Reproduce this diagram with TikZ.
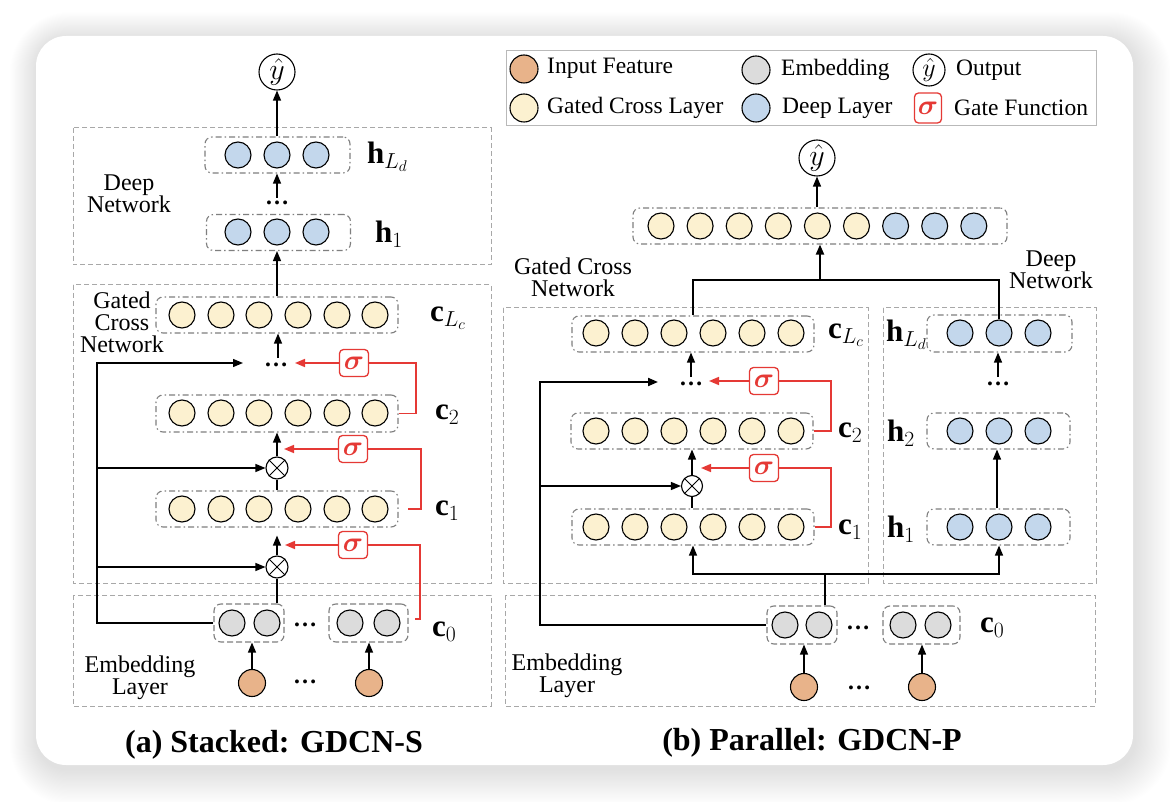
\RequirePackage{fix-cm}
\documentclass[tikz,border=0pt]{standalone}
\usepackage{amsmath}
\usepackage{bm}
\usepackage{fontspec}
\setmainfont{Liberation Serif}
\usetikzlibrary{arrows.meta,calc}
\definecolor{cyel}{HTML}{FCF1D0}
\definecolor{cblue}{HTML}{C3D7EC}
\definecolor{cgray}{HTML}{DCDCDC}
\definecolor{corange}{HTML}{E8B38A}
\definecolor{cred}{HTML}{E53935}
\definecolor{cregion}{HTML}{A8A8A8}
\definecolor{cgroup}{HTML}{7F7F7F}
\begin{document}
\begin{tikzpicture}[x=1pt,y=-1pt,
  neu/.style={circle,draw=black,line width=1.1pt,minimum size=26pt,inner sep=0pt},
  yn/.style={neu,fill=cyel},
  bn/.style={neu,fill=cblue},
  gn/.style={neu,fill=cgray},
  orn/.style={neu,fill=corange,minimum size=27pt},
  grp/.style={draw=cgroup,line width=1.1pt,rounded corners=7pt,dash pattern=on 6pt off 3pt on 1.5pt off 3pt,minimum height=36pt,inner sep=0pt},
  egrp/.style={draw=cgroup,line width=1.1pt,rounded corners=7pt,dash pattern=on 6pt off 3pt,minimum height=38pt,minimum width=70pt,inner sep=0pt},
  region/.style={draw=cregion,line width=1pt,dash pattern=on 5pt off 3pt},
  sig/.style={draw=cred,line width=1.3pt,rounded corners=4pt,fill=white,minimum width=29pt,minimum height=27pt,inner sep=0pt,text=cred,font=\fontsize{28}{28}\selectfont},
  otim/.style={circle,draw,line width=1.1pt,minimum size=22pt,inner sep=0pt},
  outn/.style={circle,draw,line width=1.1pt,minimum size=36pt,inner sep=0pt,font=\fontsize{30}{30}\selectfont},
  lbl/.style={font=\fontsize{24}{25}\selectfont,align=center,inner sep=0pt},
  leg/.style={font=\fontsize{23.5}{24}\selectfont,anchor=west,inner sep=0pt},
  mlbl/.style={font=\fontsize{31}{31}\selectfont,anchor=west,inner sep=0pt},
  dts/.style={font=\fontsize{24}{24}\selectfont\bfseries,inner sep=0pt},
  ttl/.style={font=\fontsize{32}{32}\selectfont\bfseries,inner sep=0pt},
  conn/.style={line width=1.3pt},
  arr/.style={conn,-{Triangle[length=10pt,width=8pt]}},
  redl/.style={draw=cred,line width=1.5pt},
  reda/.style={redl,-{Triangle[length=10pt,width=8pt]}}]
\useasboundingbox (0,0) rectangle (1170,802);
\fill[white] (0,0) rectangle (1170,802);
% shadow
\foreach \i in {1,...,30}{
  \pgfmathsetmacro\rr{30+\i}
  \fill[black,opacity=0.0045,rounded corners=\rr pt] (36-\i*0.9+1,36-\i*0.9+3) rectangle (1133+\i*1.2+2,765+\i*1.2+4);
}
\fill[white,rounded corners=30pt] (36,36) rectangle (1133,765);

%%%%%%%%%%%%%%%% (a) Stacked %%%%%%%%%%%%%%%%
\draw[region] (73,128) rectangle (491,265);
\draw[region] (73,285) rectangle (491,583);
\draw[region] (73,595) rectangle (491,706);

\node[lbl] (lDeepA) at (129,194) {Deep\\[-3pt]Network};
\node[lbl] (lGcnA) at (122,322) {Gated\\[-3pt]Cross\\[-3pt]Network};
\node[lbl] (lEmbA) at (140,678) {Embedding\\[-3pt]Layer};

\node[outn] (yA) at (277,72) {$\hat{y}$};

\node[grp,minimum width=145pt] (gLdA) at (277.5,155) {};
\foreach \i/\x in {1/238,2/277,3/316} \node[bn] (hLdA\i) at (\x,155) {};
\node[mlbl] (lhLdA) at (367,157) {\textbf{h}$_{L_d}$};

\node[dts] (dA1) at (277,203) {\dots};

\node[grp,minimum width=144pt] (gh1A) at (278.5,232.5) {};
\foreach \i/\x in {1/238,2/277,3/316} \node[bn] (h1A\i) at (\x,232) {};
\node[mlbl] (lh1A) at (375,234) {\textbf{h}$_1$};

\node[grp,minimum width=242pt] (gcLcA) at (277,315) {};
\foreach \i/\x in {1/182,2/221,3/259,4/298,5/337,6/375} \node[yn] (cLcA\i) at (\x,315) {};
\node[mlbl] (lcLcA) at (430,318) {\textbf{c}$_{L_c}$};

\node[dts] (dA2) at (276,365) {\dots};
\node[sig] (sA3) at (354,363) {$\bm{\sigma}$};

\node[grp,minimum width=242pt,minimum height=37pt] (gc2A) at (277,413.5) {};
\foreach \i/\x in {1/182,2/221,3/259,4/298,5/337,6/375} \node[yn] (c2A\i) at (\x,413) {};
\node[mlbl] (lc2A) at (435,415) {\textbf{c}$_2$};

\node[otim] (xA2) at (277,468) {};
\draw[line width=1pt] (xA2.45)--(xA2.225) (xA2.135)--(xA2.315);
\node[sig] (sA2) at (353,449) {$\bm{\sigma}$};

\node[grp,minimum width=242pt] (gc1A) at (277,509) {};
\foreach \i/\x in {1/182,2/221,3/259,4/298,5/337,6/375} \node[yn] (c1A\i) at (\x,509) {};
\node[mlbl] (lc1A) at (435,511) {\textbf{c}$_1$};

\node[otim] (xA1) at (277,567) {};
\draw[line width=1pt] (xA1.45)--(xA1.225) (xA1.135)--(xA1.315);
\node[sig] (sA1) at (353,545) {$\bm{\sigma}$};

\node[egrp] (ge1A) at (249,623) {};
\node[gn] (eA1) at (232,623) {};
\node[gn] (eA2) at (267,623) {};
\node[dts] (dA3) at (305,625) {\dots};
\node[egrp,minimum width=79pt] (ge2A) at (368.5,623) {};
\node[gn] (eA3) at (350,623) {};
\node[gn] (eA4) at (387,623) {};
\node[mlbl] (lc0A) at (432,632) {\textbf{c}$_0$};

\node[orn] (iA1) at (252,683) {};
\node[orn] (iA2) at (369,683) {};
\node[dts] (dA4) at (305,682) {\dots};

\node[ttl] (tA) at (274,745) {(a) Stacked: GDCN-S};

% connectors (a)
\draw[arr] (gLdA.north -| yA) -- (yA.south);
\draw[arr] ($(dA1)+(0,-5)$) -- (dA1 |- gLdA.south);
\draw[arr] (gcLcA.north -| yA) -- (gh1A.south -| yA);
\draw[arr] ($(dA2)+(2,-7)$) -- ($(gcLcA.south)+(1,0)$);
\coordinate (fA) at (97,363);
\coordinate (tA3) at (243,363);
\draw[arr] (ge1A.west) -| (fA) -- (tA3);
\draw[arr] (fA |- xA2) -- (xA2.west);
\draw[arr] (fA |- xA1) -- (xA1.west);
\draw[arr] (xA2.north) -- (gc2A.south);
\draw[conn] (gc1A.north) -- (xA2.south);
\draw[arr] (xA1.north) -- ($(gc1A.south)+(0,8)$);
\draw[conn] (xA1.south) -- (xA1.south |- ge1A.north);
\draw[arr] (iA1.north) -- (iA1.north |- ge1A.south);
\draw[arr] (iA2.north) -- (iA2.north |- ge2A.south);
% red gates (a)
\coordinate (rA3) at (416,363);
\draw[redl] (gc2A.east) -| (rA3) -- (sA3.east);
\draw[reda] (sA3.west) -- (295,363);
\coordinate (rA2s) at (408,509);
\coordinate (rA2) at (421,449);
\draw[redl] (rA2s) -| (rA2) -- (sA2.east);
\draw[reda] (sA2.west) -- (284,449);
\coordinate (rA1s) at (415,619);
\coordinate (rA1) at (420,545);
\draw[redl] (rA1s) -| (rA1) -- (sA1.east);
\draw[reda] (sA1.west) -- (285,545);

%%%%%%%%%%%%%%%% Legend %%%%%%%%%%%%%%%%
\draw[draw=cregion!80,line width=1pt] (506,51) rectangle (1096,126);
\node[orn,minimum size=28pt] (lgI) at (524,69) {};
\node[leg] (lgIt) at (547,68) {Input Feature};
\node[gn,minimum size=28pt] (lgE) at (756,70) {};
\node[leg] (lgEt) at (781,70) {Embedding};
\node[outn,minimum size=32pt,font=\fontsize{26}{26}\selectfont] (lgO) at (929,70) {$\hat{y}$};
\node[leg] (lgOt) at (956,70) {Output};
\node[yn,minimum size=28pt] (lgG) at (524,108) {};
\node[leg] (lgGt) at (547,108) {Gated Cross Layer};
\node[bn,minimum size=28pt] (lgD) at (756,108) {};
\node[leg] (lgDt) at (782,108) {Deep Layer};
\node[sig,minimum width=27pt,minimum height=30pt] (lgS) at (928,108) {$\bm{\sigma}$};
\node[leg] (lgSt) at (954,108) {Gate Function};

%%%%%%%%%%%%%%%% (b) Parallel %%%%%%%%%%%%%%%%
\draw[region] (503,308) rectangle (868,583);
\draw[region] (883,308) rectangle (1096,583);
\draw[region] (505,595) rectangle (1095,706);

\node[lbl] (lGcnB) at (573,277) {Gated Cross\\[-3pt]Network};
\node[lbl] (lDeepB) at (1051,270) {Deep\\[-3pt]Network};
\node[lbl] (lEmbB) at (567,676) {Embedding\\[-3pt]Layer};

\node[outn] (yB) at (817,158) {$\hat{y}$};
\node[grp,minimum width=374pt] (gcat) at (820,226) {};
\foreach \i in {0,...,5} \node[yn] (cat\i) at (661+39.1*\i,226) {};
\foreach \i in {6,7,8} \node[bn] (cat\i) at (661+39.1*\i,226) {};

\node[grp,minimum width=242pt] (gcLcB) at (693,334) {};
\foreach \i/\x in {1/596,2/635,3/674,4/713,5/752,6/791} \node[yn] (cLcB\i) at (\x,333) {};
\node[mlbl] (lcLcB) at (828,335) {\textbf{c}$_{L_c}$};

\node[grp,minimum width=145pt,minimum height=37pt] (ghLdB) at (999.5,333.5) {};
\foreach \i/\x in {1/960,2/999,3/1038} \node[bn] (hLdB\i) at (\x,333) {};
\node[mlbl] (lhLdB) at (886,335) {\textbf{h}$_{L_d}$};

\node[dts] (dB1) at (691,384) {\dots};
\node[sig] (sB3) at (764,381) {$\bm{\sigma}$};
\node[dts] (dB2) at (998,384) {\dots};

\node[grp,minimum width=242pt] (gc2B) at (692,431) {};
\foreach \i/\x in {1/596,2/635,3/674,4/713,5/752,6/791} \node[yn] (c2B\i) at (\x,431) {};
\node[mlbl] (lc2B) at (838,433) {\textbf{c}$_2$};
\node[grp,minimum width=143pt] (gh2B) at (998.5,431) {};
\foreach \i/\x in {1/960,2/999,3/1038} \node[bn] (h2B\i) at (\x,431) {};
\node[mlbl] (lh2B) at (887,433) {\textbf{h}$_2$};

\node[otim,minimum size=21pt] (xB) at (692,486) {};
\draw[line width=1pt] (xB.45)--(xB.225) (xB.135)--(xB.315);
\node[sig] (sB2) at (764,468) {$\bm{\sigma}$};

\node[grp,minimum width=242pt] (gc1B) at (693,527) {};
\foreach \i/\x in {1/596,2/635,3/674,4/713,5/752,6/791} \node[yn] (c1B\i) at (\x,527) {};
\node[mlbl] (lc1B) at (838,530) {\textbf{c}$_1$};
\node[grp,minimum width=143pt] (gh1B) at (998.5,527) {};
\foreach \i/\x in {1/960,2/999,3/1038} \node[bn] (h1B\i) at (\x,527) {};
\node[mlbl] (lh1B) at (887,529) {\textbf{h}$_1$};

\node[egrp] (ge1B) at (802,625) {};
\node[gn] (eB1) at (785,625) {};
\node[gn] (eB2) at (819,625) {};
\node[dts] (dB3) at (858,628) {\dots};
\node[egrp,minimum width=77pt] (ge2B) at (921.5,625) {};
\node[gn] (eB3) at (903,625) {};
\node[gn] (eB4) at (938,625) {};
\node[mlbl] (lc0B) at (980,628) {\textbf{c}$_0$};

\node[orn] (iB1) at (804,687) {};
\node[orn] (iB2) at (922,687) {};
\node[dts] (dB4) at (859,688) {\dots};

\node[ttl] (tB) at (812,743) {(b) Parallel: GDCN-P};

% connectors (b)
\draw[arr] (yB |- gcat.north) -- (yB.south);
\coordinate (mB) at (820,280);
\draw[arr,line width=2pt] (mB) -- (mB |- gcat.south);
\draw[conn] (gcLcB.north) |- (mB) -| (hLdB2.north);
\draw[arr] ($(dB1)+(0,-7)$) -- (dB1 |- gcLcB.south);
\draw[arr] ($(dB2)+(0,-7)$) -- (dB2 |- ghLdB.south);
\coordinate (fB) at (540,382);
\coordinate (tB3) at (658,382);
\draw[arr,line width=2pt] (ge1B.west) -| (fB) -- (tB3);
\draw[arr] (fB |- xB) -- (xB.west);
\draw[arr] (xB.north) -- (gc2B.south -| xB);
\draw[conn] (xB.south) -- (xB |- gc1B.north);
\draw[arr] ($(gh1B.north)+(-1.5,0)$) -- ($(gh2B.south)+(-1.5,0)$);
\coordinate (sp) at (825,574);
\draw[conn] (sp |- ge1B.north) -- (sp);
\draw[arr] (sp) -| (gc1B.south);
\draw[arr] (sp) -| (h1B2 |- gh1B.south);
\draw[arr] (iB1.north) -- (iB1.north |- ge1B.south);
\draw[arr] (iB2.north) -- (iB2.north |- ge2B.south);
% red gates (b)
\coordinate (rB3) at (831,381);
\draw[redl] (gc2B.east) -| (rB3) -- (sB3.east);
\draw[reda] (sB3.west) -- (709,381);
\coordinate (rB2) at (831,468);
\draw[redl] (gc1B.east) -| (rB2) -- (sB2.east);
\draw[reda] (sB2.west) -- (701,468);
\end{tikzpicture}
\end{document}
